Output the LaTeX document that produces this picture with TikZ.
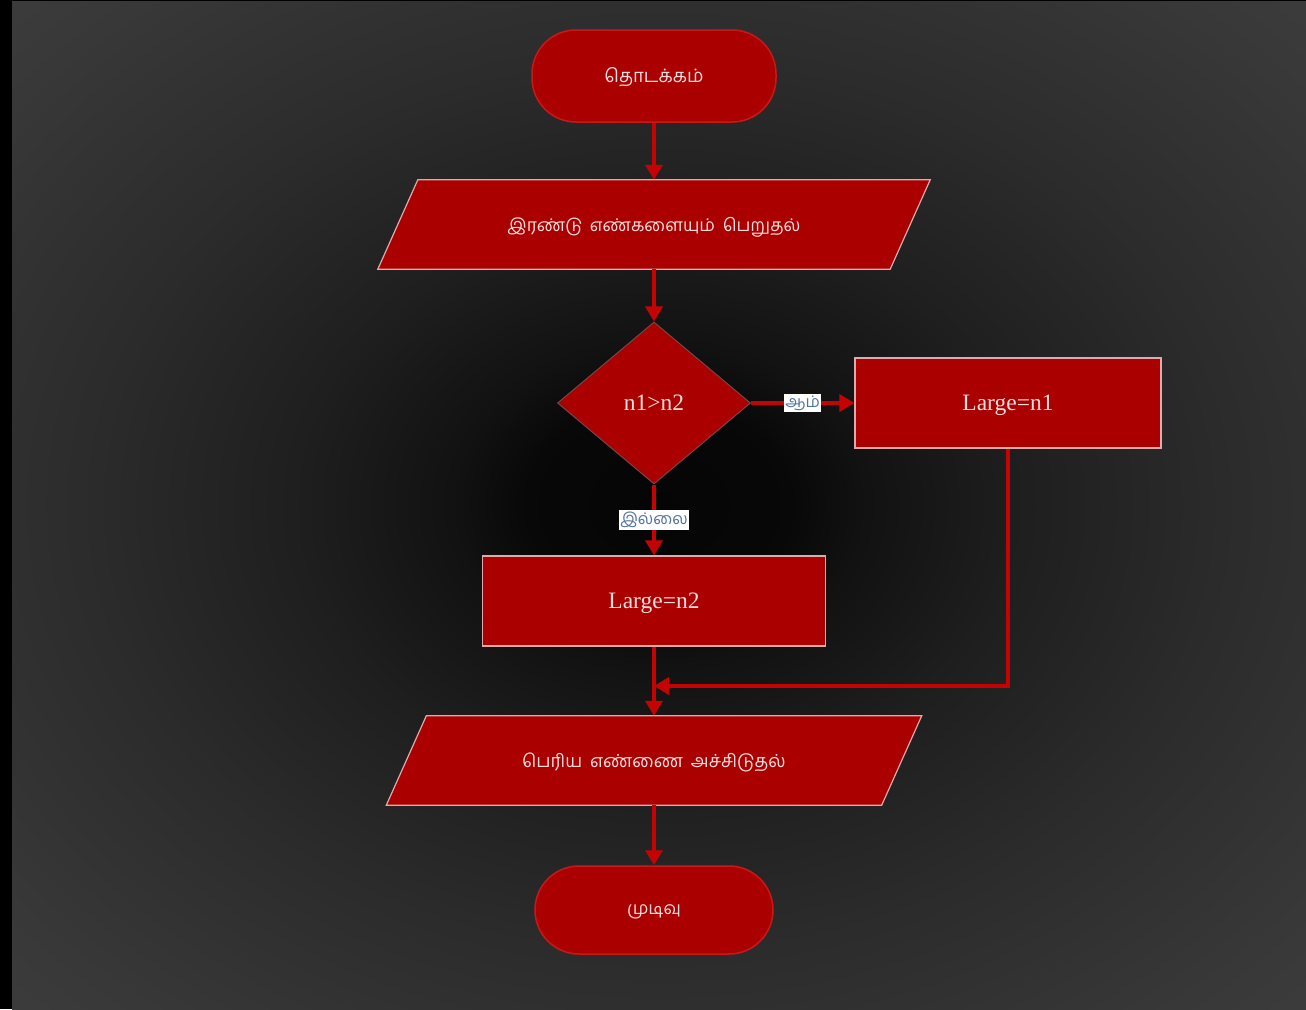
\documentclass[tikz,border=0pt]{standalone}
\usepackage{fontspec}
\setmainfont{Liberation Serif}
\newfontfamily\tamil[Script=Tamil,WordSpace=1.8]{Hind Madurai}
\usetikzlibrary{shapes.geometric,arrows.meta,calc}

\definecolor{boxred}{RGB}{170,0,0}
\definecolor{linkred}{RGB}{196,4,4}
\definecolor{edgepink}{RGB}{222,170,170}
\definecolor{rimred}{RGB}{200,25,25}
\definecolor{inktext}{RGB}{246,222,222}
\definecolor{tagtext}{RGB}{80,115,160}

% dark radial glow for the page
\pgfdeclareradialshading{pageglow}{\pgfpoint{0bp}{0bp}}{%
  rgb(0bp)=(0.02,0.02,0.02);
  rgb(5bp)=(0.03,0.03,0.03);
  rgb(8bp)=(0.07,0.07,0.07);
  rgb(14bp)=(0.12,0.12,0.12);
  rgb(22bp)=(0.17,0.17,0.17);
  rgb(32bp)=(0.22,0.22,0.22);
  rgb(42bp)=(0.26,0.26,0.26);
  rgb(50bp)=(0.285,0.285,0.285)}

\pgfdeclarelayer{page}
\pgfdeclarelayer{shapes}
\pgfsetlayers{page,shapes,main}

\tikzset{
  terminal/.style={rectangle, rounded corners=44pt, fill=boxred, draw=rimred,
    line width=1.5pt, text=inktext, text depth=1pt,
    font=\tamil\fontsize{18.5}{22}\selectfont},
  procbox/.style={rectangle, fill=boxred, draw=edgepink, line width=1.2pt,
    minimum height=90pt, text=inktext, text depth=0pt,
    font=\fontsize{23.5}{27}\selectfont},
  iobox/.style={rectangle, minimum height=89pt, inner sep=0pt, text=inktext,
    text depth=0pt, font=\tamil\fontsize{18}{21}\selectfont},
  ioshape/.style={fill=boxred, draw=edgepink, line width=1.2pt},
  decision/.style={diamond, fill=boxred, draw={rgb,255:red,120;green,70;blue,70},
    line width=1pt, minimum width=193pt, minimum height=162pt, inner sep=0pt,
    text=inktext, text depth=0pt, font=\fontsize{23.5}{27}\selectfont},
  link/.style={draw=linkred, line width=4pt,
    -{Triangle[length=15pt,width=17pt]}},
  tag/.style={fill=white, text=tagtext, inner xsep=1pt, inner ysep=2pt,
    font=\tamil\fontsize{16}{18}\selectfont}
}

\begin{document}
\begin{tikzpicture}[x=1pt, y=-1pt]
  \useasboundingbox (0,0) rectangle (1306,1009);

  \begin{pgfonlayer}{page}
    \fill[black] (0,0) rectangle (1306,1009);
    \shade[shading=pageglow] (12,1) rectangle (1306,1009);
  \end{pgfonlayer}

  % nodes
  \node[terminal, minimum width=244pt, minimum height=92pt] (start) at (654,76) {தொடக்கம்};
  \node[iobox, minimum width=512pt, font=\tamil\fontsize{17.5}{21}\selectfont]
    (read) at (654,224.5) {இரண்டு எண்களையும் பெறுதல்};
  \node[decision] (test) at (654,403) {n1>n2};
  \node[procbox, minimum width=306pt] (big1) at (1008,403) {Large=n1};
  \node[procbox, minimum width=343pt] (big2) at (654,601) {Large=n2};
  \node[iobox, minimum width=495pt] (show) at (654,760.5) {பெரிய எண்ணை அச்சிடுதல்};
  \node[terminal, minimum width=238pt, minimum height=88pt,
        font=\tamil\fontsize{17.5}{21}\selectfont] (stop) at (654,910) {முடிவு};
  \coordinate (join) at (654,686);

  % slanted input/output outlines
  \begin{pgfonlayer}{shapes}
    \foreach \p in {read,show}{
      \path[ioshape] ([xshift=20pt]\p.north west) -- ([xshift=20pt]\p.north east)
        -- ([xshift=-20pt]\p.south east) -- ([xshift=-20pt]\p.south west) -- cycle;
    }
  \end{pgfonlayer}

  % connectors
  \draw[link] (start) -- (read);
  \draw[link] (read) -- (test);
  \draw[link] (test) -- node[tag, pos=0.5] {ஆம்} (big1);
  \draw[link] (test) -- node[tag, pos=0.5] {இல்லை} (big2);
  \draw[link] (big1.south) |- (join);
  \draw[link] (big2) -- (show);
  \draw[link] (show) -- (stop);
\end{tikzpicture}
\end{document}
